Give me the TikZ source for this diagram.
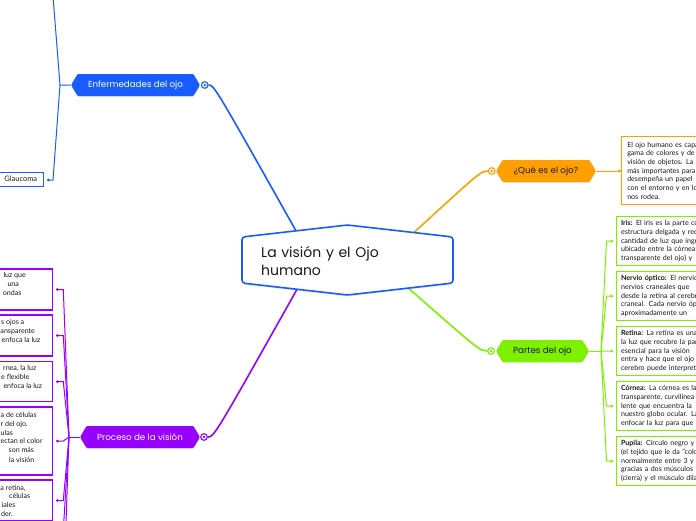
\documentclass[tikz,border=0pt]{standalone}
\usepackage{fontspec}
\setmainfont{Lato}
\newfontfamily\popfont{Poppins}
\usetikzlibrary{shapes.symbols,shadows,calc}
\definecolor{cblue}{RGB}{24,92,255}
\definecolor{corange}{RGB}{255,160,0}
\definecolor{cgreen}{RGB}{125,240,0}
\definecolor{cpurple}{RGB}{150,0,255}
\definecolor{ctext}{RGB}{25,25,25}
\begin{document}
\begin{tikzpicture}[x=1pt,y=-1pt,
  topic/.style={signal, signal to=east and west, signal pointer angle=118,
    minimum height=22, inner sep=0pt, font=\popfont\fontsize{8.7}{10}\selectfont,
    rounded corners=1pt, drop shadow={opacity=0.2,shadow xshift=0pt,shadow yshift=-1.2pt}},
  marker/.style={circle, draw=#1, fill=white, line width=1.1, minimum size=6.6, inner sep=0pt},
  mainline/.style={draw=#1, line width=1.6},
  subline/.style={draw=#1, line width=1},
  small/.style={font=\fontsize{7.1}{8.7}\selectfont, text=ctext},
  txtbox/.style={small, draw=#1, line width=1.1, fill=white, anchor=north west,
    text width=170, align=left, inner xsep=4.5, inner ysep=3.3},
  pbox/.style={draw=cpurple, line width=1.1, fill=white, minimum width=120, anchor=east},
  frag/.style={small, anchor=base west, inner sep=0pt},
  cshape/.style={draw=cblue, fill=white, line width=1.6, rounded corners=3pt,
    drop shadow={opacity=0.18,shadow xshift=0pt,shadow yshift=-1.5pt}}
]
\useasboundingbox (0,0) rectangle (696,520);
\clip (0,0) rectangle (696,520);

% ---------- coordinates ----------
\coordinate (cb) at (300,238);
\coordinate (co) at (408,238);
\coordinate (cg) at (406,286);
\coordinate (cp) at (300,284);
\coordinate (bj) at (60,85);
\coordinate (bup) at (52.5,-10);
\coordinate (gj) at (601,351);
\coordinate (pj) at (69,437);
\coordinate (pdown1) at (63.3,530);
\coordinate (pdown2) at (63.3,600);

% ---------- topics ----------
\node[topic, fill=cblue, text=white, minimum width=129] (enf) at (135.5,85) {Enfermedades del ojo};
\node[topic, fill=corange, text=ctext, minimum width=100] (que) at (546,171) {¿Qué es el ojo?};
\node[topic, fill=cgreen, text=ctext, minimum width=93] (partes) at (542.5,351) {Partes del ojo};
\node[topic, fill=cpurple, text=white, minimum width=120] (proc) at (140,437) {Proceso de la visión};

\node[marker=cblue] (bm) at (204.7,85) {};
\node[marker=corange] (om) at (491.7,171) {};
\node[marker=cgreen] (gm) at (491,351) {};
\node[marker=cpurple] (pm) at (204,437) {};

% ---------- main connectors ----------
\draw[mainline=cblue] (bm.east) .. controls (214,85) .. (cb);
\draw[mainline=corange] (om.west) .. controls (481,171) .. (co);
\draw[mainline=cgreen] (gm.west) .. controls (480,351) .. (cg);
\draw[mainline=cpurple] (pm.east) .. controls (214,437) .. (cp);
\fill[cblue] (bm) circle (1.3);
\fill[corange] (om) circle (1.3);
\fill[cgreen] (gm) circle (1.3);
\fill[cpurple] (pm) circle (1.3);

% ---------- central ----------
\path[cshape] (242,237) -- (347.5,225) -- (453,237) -- (453,283) -- (347.5,295) -- (242,283) -- cycle;
\node[font=\popfont\fontsize{14}{18.5}\selectfont, text=ctext, text width=180, align=left,
  inner sep=0pt, anchor=west] (cen) at (261,261) {La visión y el Ojo\\humano};

% ---------- blue branch ----------
\node[draw=cblue, line width=1, fill=white, font=\fontsize{7.5}{9}\selectfont, text=ctext,
  minimum height=14, minimum width=46, inner sep=0pt, anchor=east] (gla) at (44.3,179) {Glaucoma};
\draw[subline=cblue] (enf.west) -- (bj) -- (bup);
\draw[subline=cblue] (bj) -- (53,180) -- ([xshift=4pt]gla.east |- 0,180);
\fill[cblue] (48.3,180) circle (1.5);

% ---------- orange branch ----------
\node[txtbox=corange, text width=170, minimum height=68, inner xsep=5.7] (qbox) at (621,136)
 {El ojo humano es capaz de\\gama de colores y de\\visión de objetos. La\\más importantes para\\desempeña un papel\\con el entorno y en lo\\nos rodea.};
\draw[subline=corange] (que.east) -- (qbox.west |- que.east);
\fill[corange] (619.5,171) circle (1.7);

% ---------- green branch ----------
\node[txtbox=cgreen, minimum height=49] (iris) at (616,216)
 {\textbf{Iris:} El iris es la parte coloreada\\estructura delgada y redonda\\cantidad de luz que ingresa\\ubicado entre la córnea\\transparente del ojo) y};
\node[txtbox=cgreen, minimum height=49] (nerv) at (616,271)
 {\textbf{Nervio óptico:} El nervio\\nervios craneales que\\desde la retina al cerebro\\craneal. Cada nervio óptico\\aproximadamente un};
\node[txtbox=cgreen, minimum height=49] (ret) at (616,326)
 {\textbf{Retina:} La retina es una\\la luz que recubre la parte\\esencial para la visión\\entra y hace que el ojo\\cerebro puede interpretar};
\node[txtbox=cgreen, minimum height=49] (cor) at (616,381)
 {\textbf{Córnea:} La córnea es la\\transparente, curvilínea\\lente que encuentra la\\nuestro globo ocular. La\\enfocar la luz para que};
\node[txtbox=cgreen, minimum height=49] (pup) at (616,436)
 {\textbf{Pupila:} Círculo negro y\\(el tejido que le da ''color''\\normalmente entre 3 y\\gracias a dos músculos\\(cierra) y el músculo dilatador};
\draw[subline=cgreen] (partes.east) -- (gj);
\foreach \b in {iris,nerv,ret,cor,pup}{
  \draw[subline=cgreen] (gj) -- (606.5,0 |- \b.west) -- ([xshift=-4.3pt]\b.west);
  \fill[cgreen] ([xshift=-4.3pt]\b.west) circle (1.5);
}

% ---------- purple branch ----------
\node[pbox, minimum height=41] (pb1) at (53.3,289.5) {};
\node[pbox, minimum height=41] (pb2) at (53.3,335.5) {};
\node[pbox, minimum height=40] (pb3) at (53.3,381.7) {};
\node[pbox, minimum height=68] (pb4) at (53.3,441) {};
\node[pbox, minimum height=41] (pb5) at (53.3,500.5) {};
\draw[subline=cpurple] (proc.west) -- (pj);
\foreach \b in {pb1,pb2,pb3,pb4,pb5}{
  \draw[subline=cpurple] (pj) -- (63.3,0 |- \b.east) -- ([xshift=4pt]\b.east);
  \fill[cpurple] ([xshift=4pt]\b.east) circle (1.5);
}
\draw[subline=cpurple] (pj) -- (pdown1);
\draw[subline=cpurple] (pj) -- (pdown2);

\foreach \x/\y/\t [count=\i] in {
  3.3/277.7/{luz que}, 7.3/286.3/{una}, 2.7/295.7/{ondas},
  1/324.3/{s ojos a}, 0.3/333.3/{ansparente}, 1.5/342.7/{enfoca la luz},
  3/370.3/{rnea, la luz}, 1/379.3/{e flexible}, 3.3/388.7/{enfoca la luz},
  0.5/417/{a de células}, 0.5/426/{r del ojo.}, 0.5/435/{ulas}, 0.5/443.7/{ectan el color},
  8.5/452.7/{son más}, 9/462/{la visión},
  0.3/490.3/{a retina,}, 9/498.7/{células}, 1.5/507.3/{iales}, 1/516.3/{der.}}
  \node[frag] (pt\i) at (\x,\y) {\t};
\end{tikzpicture}
\end{document}
